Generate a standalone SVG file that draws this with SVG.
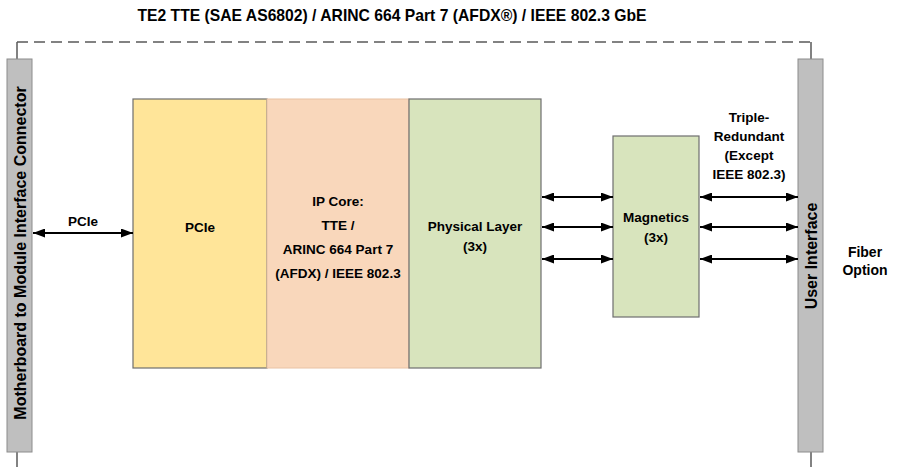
<svg xmlns="http://www.w3.org/2000/svg" width="898" height="467" viewBox="0 0 898 467">
<defs>
<style>
text{font-family:"Liberation Sans",Arial,sans-serif;font-weight:bold;fill:#000;text-anchor:middle}
.t13{font-size:13.5px}
.t14{font-size:14px}
.t16{font-size:16px}
.bar{fill:#bfbfbf;stroke:#8c8c8c;stroke-width:1}
.blk{stroke:#6e6e6e;stroke-width:1.2}
.con{stroke:#000;stroke-width:2;fill:none;marker-start:url(#ah);marker-end:url(#ah)}
.frame{stroke:#595959;stroke-width:1.5;fill:none}
</style>
<marker id="ah" viewBox="0 0 12 9" refX="12" refY="4.5" markerWidth="12" markerHeight="9" markerUnits="userSpaceOnUse" orient="auto-start-reverse">
<path d="M0,0 L12,4.5 L0,9 Z" fill="#000"/>
</marker>
</defs>
<text x="392" y="21" style="font-size:15.7px">TE2 TTE (SAE AS6802) / ARINC 664 Part 7 (AFDX®) / IEEE 802.3 GbE</text>
<g id="frame">
<path class="frame" d="M17,42 H811" stroke-dasharray="11,6"/>
<path class="frame" d="M17,42 V59 M811,42 V59 M17,452 V467 M811,452 V467" stroke-width="1.2"/>
</g>
<g id="motherboard">
<rect class="bar" x="7" y="59" width="25" height="393"/>
<text class="t16" transform="translate(25.5,253) rotate(-90)">Motherboard to Module Interface Connector</text>
</g>
<g id="userinterface">
<rect class="bar" x="798" y="59" width="25" height="393"/>
<text class="t16" transform="translate(816.5,256) rotate(-90)">User Interface</text>
</g>
<g id="pcie">
<rect class="blk" x="133" y="99" width="134" height="269" fill="#ffe599"/>
<text class="t13" x="200" y="232">PCIe</text>
</g>
<g id="ipcore">
<rect x="267" y="99" width="142" height="269" fill="#f9d7bb" stroke="#e8c2a4" stroke-width="1"/>
<text class="t13" x="338" y="206">IP Core:</text>
<text class="t13" x="338" y="230">TTE /</text>
<text class="t13" x="338" y="254">ARINC 664 Part 7</text>
<text class="t13" x="338" y="278">(AFDX) / IEEE 802.3</text>
</g>
<g id="phy">
<rect class="blk" x="409" y="99" width="132" height="269" fill="#d8e4bd"/>
<text class="t13" x="475" y="231">Physical Layer</text>
<text class="t13" x="475" y="251">(3x)</text>
</g>
<g id="magnetics">
<rect class="blk" x="613" y="136" width="86" height="181" fill="#d8e4bd"/>
<text class="t13" x="656" y="222">Magnetics</text>
<text class="t13" x="656" y="242">(3x)</text>
</g>
<g id="labels">
<text class="t13" x="83" y="226">PCIe</text>
<text class="t13" x="749" y="122">Triple-</text>
<text class="t13" x="749" y="141">Redundant</text>
<text class="t13" x="749" y="160">(Except</text>
<text class="t13" x="749" y="179">IEEE 802.3)</text>
<text class="t14" x="865" y="257">Fiber</text>
<text class="t14" x="865" y="275">Option</text>
</g>
<g id="connectors">
<line class="con" x1="33" y1="233" x2="133" y2="233"/>
<line class="con" x1="542" y1="197" x2="613" y2="197"/>
<line class="con" x1="542" y1="227" x2="613" y2="227"/>
<line class="con" x1="542" y1="259" x2="613" y2="259"/>
<line class="con" x1="700" y1="197" x2="798" y2="197"/>
<line class="con" x1="700" y1="227" x2="798" y2="227"/>
<line class="con" x1="700" y1="259" x2="798" y2="259"/>
</g>
</svg>
